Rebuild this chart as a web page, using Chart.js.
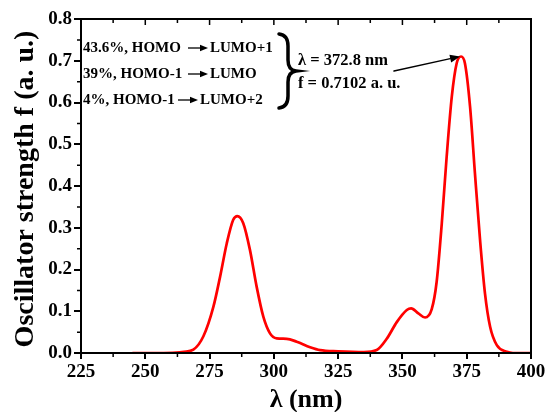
<!DOCTYPE html>
<html>
<head>
<meta charset="utf-8">
<script src="https://cdn.jsdelivr.net/npm/chart.js@4.4.0/dist/chart.umd.min.js"></script>
<style>
  html, body { margin: 0; padding: 0; background: #fff; }
  #wrap { width: 549px; height: 412px; }
</style>
</head>
<body>
<div id="wrap"><canvas id="myChart" width="549" height="412"></canvas></div>
<script>
// values
const wavelength = [245, 255, 262, 265, 268.7, 272.6, 276.5, 279.1, 281.7, 284.2, 285.8, 288.1, 290.7, 293.3, 295.9, 298.5,
  301.1, 305, 308.9, 314.1, 318, 325, 335, 340, 343.9, 347.8, 351.7, 353.4, 356.2, 358.8, 361.4, 363.3, 365.3, 367.2,
  369.2, 371.1, 372.8, 374.3, 376.3, 378.2, 380.2, 382.1, 384.1, 386.7, 390.6, 393, 400];
const strength = [0, 0, 0.001, 0.003, 0.008, 0.040, 0.111, 0.183, 0.263, 0.319, 0.328, 0.311, 0.247, 0.159, 0.087, 0.047,
  0.035, 0.034, 0.027, 0.014, 0.007, 0.004, 0.002, 0.007, 0.034, 0.074, 0.103, 0.107, 0.095, 0.085, 0.105, 0.17, 0.31, 0.47,
  0.614, 0.694, 0.7102, 0.694, 0.59, 0.43, 0.27, 0.143, 0.063, 0.019, 0.003, 0, 0];

const xMajor = [225, 250, 275, 300, 325, 350, 375, 400];
const yMajor = [0, 0.1, 0.2, 0.3, 0.4, 0.5, 0.6, 0.7, 0.8];
const xMinor = [237.5, 262.5, 287.5, 312.5, 337.5, 362.5, 387.5];
const yMinor = [0.05, 0.15, 0.25, 0.35, 0.45, 0.55, 0.65, 0.75];

const xTitle = '\u03bb (nm)';
const yTitle = 'Oscillator strength f (a. u.)';

const peakX = 372.8, peakY = 0.7102;
const notes = [
  ['43.6%, HOMO', 'LUMO+1'],
  ['39%, HOMO-1', 'LUMO'],
  ['4%, HOMO-1', 'LUMO+2']
];
const peakText = ['\u03bb = 372.8 nm', 'f = 0.7102 a. u.'];

const serif = '"Liberation Serif", "Times New Roman", serif';

function arrow(ctx, x1, y1, x2, y2, head) {
  const a = Math.atan2(y2 - y1, x2 - x1);
  ctx.beginPath();
  ctx.moveTo(x1, y1);
  ctx.lineTo(x2 - head * Math.cos(a), y2 - head * Math.sin(a));
  ctx.stroke();
  ctx.beginPath();
  ctx.moveTo(x2, y2);
  ctx.lineTo(x2 - head * Math.cos(a) + head * 0.4 * Math.sin(a), y2 - head * Math.sin(a) - head * 0.4 * Math.cos(a));
  ctx.lineTo(x2 - head * Math.cos(a) - head * 0.4 * Math.sin(a), y2 - head * Math.sin(a) + head * 0.4 * Math.cos(a));
  ctx.closePath();
  ctx.fill();
}

const extras = {
  id: 'extras',
  afterDraw(chart) {
    const ctx = chart.ctx;
    const xs = chart.scales.x, ys = chart.scales.y;
    const a = chart.chartArea;
    ctx.save();
    ctx.strokeStyle = '#000';
    ctx.fillStyle = '#000';
    ctx.lineWidth = 2;
    ctx.strokeRect(a.left, a.top, a.right - a.left, a.bottom - a.top);

    // minor ticks outside, top ticks inside
    ctx.lineWidth = 1.5;
    ctx.beginPath();
    xMinor.forEach(v => {
      const px = xs.getPixelForValue(v);
      ctx.moveTo(px, a.bottom); ctx.lineTo(px, a.bottom + 4);
      ctx.moveTo(px, a.top); ctx.lineTo(px, a.top + 4);
    });
    xMajor.forEach(v => {
      const px = xs.getPixelForValue(v);
      ctx.moveTo(px, a.top); ctx.lineTo(px, a.top + 6);
    });
    yMinor.forEach(v => {
      const py = ys.getPixelForValue(v);
      ctx.moveTo(a.left, py); ctx.lineTo(a.left - 4, py);
    });
    ctx.stroke();

    // axis titles
    ctx.font = 'bold 26px ' + serif;
    ctx.textAlign = 'center';
    ctx.textBaseline = 'alphabetic';
    ctx.fillText(xTitle, (a.left + a.right) / 2, 407);
    ctx.save();
    ctx.translate(33, (a.top + a.bottom) / 2 + 3);
    ctx.rotate(-Math.PI / 2);
    ctx.font = 'bold 28px ' + serif;
    ctx.fillText(yTitle, 0, 0);
    ctx.restore();

    // transition labels
    ctx.font = 'bold 15px ' + serif;
    ctx.textBaseline = 'middle';
    ctx.textAlign = 'left';
    const rows = [48, 74, 100];
    const arrowStart = [188, 188, 178];
    notes.forEach((n, i) => {
      ctx.fillText(n[0], 83, rows[i]);
      const x0 = arrowStart[i];
      ctx.lineWidth = 1.3;
      arrow(ctx, x0, rows[i], x0 + 20, rows[i], 8);
      ctx.fillText(n[1], x0 + 22, rows[i]);
    });

    // brace
    ctx.lineWidth = 3.5;
    ctx.lineCap = 'round';
    ctx.beginPath();
    ctx.moveTo(279, 34);
    ctx.quadraticCurveTo(288, 35, 288, 46);
    ctx.lineTo(288, 60);
    ctx.quadraticCurveTo(288, 70, 296, 71);
    ctx.quadraticCurveTo(288, 72, 288, 82);
    ctx.lineTo(288, 96);
    ctx.quadraticCurveTo(288, 107, 279, 108);
    ctx.stroke();

    ctx.font = 'bold 16.5px ' + serif;
    ctx.fillText(peakText[0], 298, 61);
    ctx.fillText(peakText[1], 298, 84);

    ctx.lineWidth = 1.5;
    arrow(ctx, 394, 71, xs.getPixelForValue(peakX) - 1, ys.getPixelForValue(peakY), 10);
    ctx.restore();
  }
};

const ctx = document.getElementById('myChart').getContext('2d');
const myChart = new Chart(ctx, {
  type: 'line',
  data: {
    datasets: [{
      data: wavelength.map((w, i) => ({ x: w, y: strength[i] })),
      borderColor: '#ff0000',
      borderWidth: 2.7,
      pointRadius: 0,
      cubicInterpolationMode: 'monotone',
      fill: false
    }]
  },
  options: {
    responsive: false,
    animation: false,
    layout: { padding: { top: 19, right: 18, left: 0, bottom: 0 } },
    plugins: { legend: { display: false }, tooltip: { enabled: false } },
    scales: {
      x: {
        type: 'linear',
        min: 225, max: 400,
        afterBuildTicks: s => { s.ticks = xMajor.map(v => ({ value: v })); },
        afterFit: s => { s.height = 59; },
        grid: { drawOnChartArea: false, drawTicks: true, tickLength: 6, color: '#000', lineWidth: 2 },
        border: { display: false },
        ticks: { color: '#000', padding: 2, maxRotation: 0, font: { family: serif, size: 19, weight: 'bold' } }
      },
      y: {
        min: 0, max: 0.8,
        afterBuildTicks: s => { s.ticks = yMajor.map(v => ({ value: v })); },
        afterFit: s => { s.width = 81; },
        grid: { drawOnChartArea: false, drawTicks: true, tickLength: 7, color: '#000', lineWidth: 2 },
        border: { display: false },
        ticks: { color: '#000', padding: 2, callback: v => v.toFixed(1), font: { family: serif, size: 19, weight: 'bold' } }
      }
    }
  },
  plugins: [extras]
});
</script>
</body>
</html>
